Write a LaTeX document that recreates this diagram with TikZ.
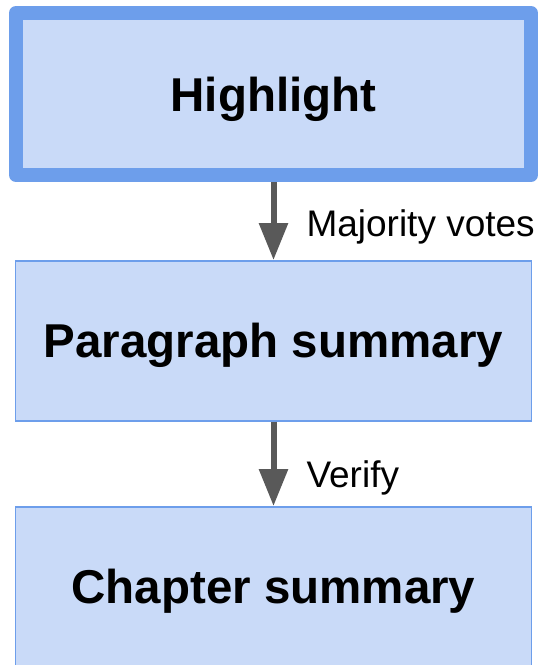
\documentclass[tikz,border=0pt]{standalone}
\usepackage{fontspec}
\setmainfont{Liberation Sans}
\usetikzlibrary{positioning,arrows.meta}

\definecolor{boxfill}{HTML}{C9DAF8}
\definecolor{boxline}{HTML}{6D9EEB}
\definecolor{arrowgray}{HTML}{595959}

\begin{document}
\begin{tikzpicture}[x=1pt, y=1pt,
		box/.style={
			draw=boxline,
			fill=boxfill,
			line width=1.5pt,
			minimum height=160pt,
			minimum width=516pt,
			text depth=0pt,
			font=\fontsize{47.5}{57}\selectfont\bfseries},
		mainbox/.style={
			box,
			line width=14pt,
			line join=round,
			minimum height=162pt,
			minimum width=515pt},
		flow/.style={
			draw=arrowgray,
			line width=6pt,
			-{Triangle[width=28pt,length=37pt]}},
		lbl/.style={
			anchor=base west,
			inner sep=0pt,
			xshift=30pt,
			font=\fontsize{37}{44}\selectfont}]

		\clip (0,0) rectangle (539,-665);

		\node (high) [mainbox] at (273.5,-94) {Highlight};
		\node (para) [box, below=78pt of high] {Paragraph summary};
		\node (chap) [box, below=84.5pt of para] {Chapter summary};

		\draw [flow] (high) -- node [lbl, yshift=-15pt] {Majority votes} (para);
		\draw [flow] (para) -- node [lbl, yshift=-24pt] {Verify} (chap);
	\end{tikzpicture}
\end{document}
